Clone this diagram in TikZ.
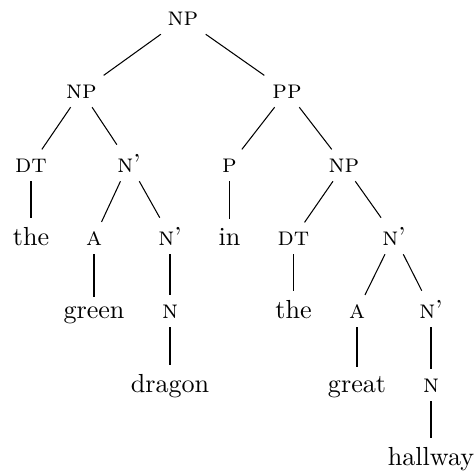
\documentclass[tikz,border=0pt]{standalone}
\begin{document}
\begin{tikzpicture}[x=0.383pt,y=-0.383pt,
  tn/.style={anchor=base,inner sep=3.333pt},
  br/.style={draw=black,line width=0.4pt}]
\useasboundingbox (0,0) rectangle (476,470);
% level 1
\node[tn] (np0) at (183,25) {\textsc{np}};
% level 2
\node[tn] (np1) at (81.5,98) {\textsc{np}};
\node[tn] (pp) at (287,98) {\textsc{pp}};
% level 3
\node[tn] (dt1) at (31,172) {\textsc{dt}};
\node[tn] (nb1) at (129,172) {\textsc{n}'};
\node[tn] (p) at (229.5,172) {\textsc{p}};
\node[tn] (np2) at (344,172) {\textsc{np}};
% level 4
\node[tn] (the1) at (31,245) {the};
\node[tn] (a1) at (94,245) {\textsc{a}};
\node[tn] (nb2) at (170,245) {\textsc{n}'};
\node[tn] (in) at (229.5,245) {in};
\node[tn] (dt2) at (293.5,245) {\textsc{dt}};
\node[tn] (nb3) at (394,245) {\textsc{n}'};
% level 5
\node[tn] (green) at (94,318) {green};
\node[tn] (n1) at (170,318) {\textsc{n}};
\node[tn] (the2) at (293.5,318) {the};
\node[tn] (a2) at (357,318) {\textsc{a}};
\node[tn] (nb4) at (431,318) {\textsc{n}'};
% level 6
\node[tn] (dragon) at (170,392) {dragon};
\node[tn] (great) at (357,392) {great};
\node[tn] (n2) at (431,392) {\textsc{n}};
% level 7
\node[tn] (hallway) at (431,465) {hallway};
% edges
\draw[br] (np0) -- (np1);
\draw[br] (np0) -- (pp);
\draw[br] (np1) -- (dt1);
\draw[br] (np1) -- (nb1);
\draw[br] (pp) -- (p);
\draw[br] (pp) -- (np2);
\draw[br] (dt1) -- (the1);
\draw[br] (nb1) -- (a1);
\draw[br] (nb1) -- (nb2);
\draw[br] (p) -- (in);
\draw[br] (np2) -- (dt2);
\draw[br] (np2) -- (nb3);
\draw[br] (a1) -- (green);
\draw[br] (nb2) -- (n1);
\draw[br] (dt2) -- (the2);
\draw[br] (nb3) -- (a2);
\draw[br] (nb3) -- (nb4);
\draw[br] (n1) -- (dragon);
\draw[br] (a2) -- (great);
\draw[br] (nb4) -- (n2);
\draw[br] (n2) -- (hallway);
\end{tikzpicture}
\end{document}
